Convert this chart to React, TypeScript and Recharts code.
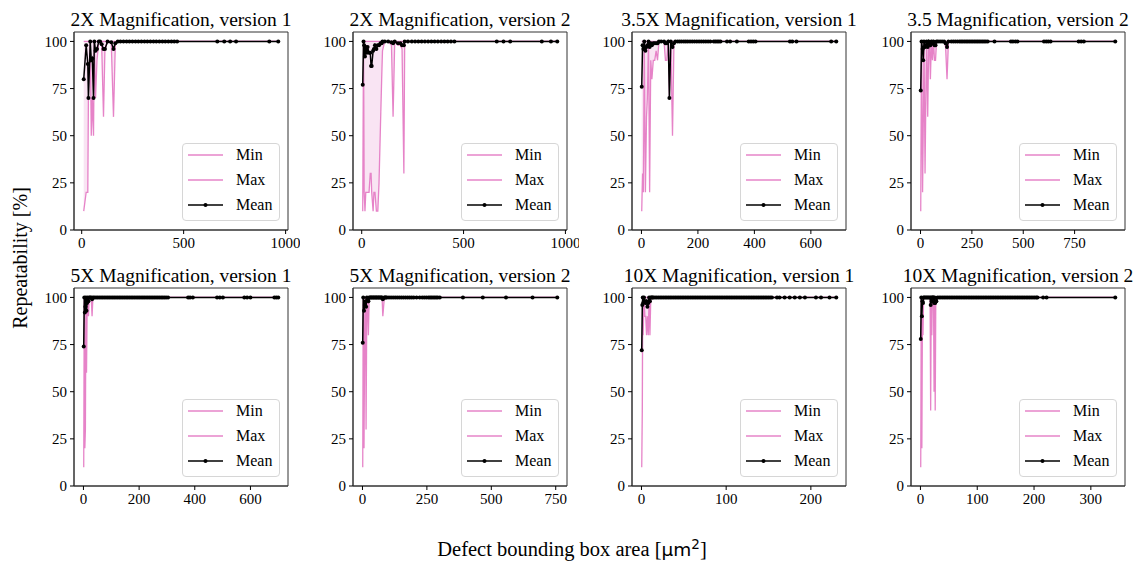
import { ComposedChart, Area, Line, XAxis, YAxis, ReferenceArea, Legend } from 'recharts'

const FONT = '"Liberation Serif", "Times New Roman", serif'
const PINK = '#e377c2'
const FULL = 100 // every repeat found the defect

// 2X, version 1
const AREA_2X_V1 = [10, 22, 30, 33, 42, 47, 52, 58, 62, 68, 75, 84, 90, 98, 107, 114, 127, 145, 156, 165, 177]
const MIN_2X_V1 = [10, 20, 20, 70, 100, 50, 70, 50, 100, 70, 90, 100, 100, 98, 60, 96, 100, 99, 60, 99, 100]
const MAX_2X_V1 = [100, 100, 100, 100, 100, 100, 100, 100, 100, 100, 100, 100, 100, 100, 100, 100, 100, 100, 100, 100, 100]
const MEAN_2X_V1 = [80, 98, 88, 70, 100, 90, 91, 70, 100, 95, 96, 100, 100, 98.5, 96, 96, 100, 99.5, 96, 99, 100]
const FULL_2X_V1 = [190, 205, 220, 234, 249, 264, 278, 293, 308, 322, 337, 352, 366, 381, 396, 410, 425, 440, 454, 468, 665, 699, 728, 757, 920, 964]

// 2X, version 2
const AREA_2X_V2 = [5, 9, 12, 16, 20, 24, 29, 36, 42, 46, 49, 56, 60, 65, 72, 79, 85, 92, 98, 102, 113, 130, 146, 154, 162, 178, 190, 198, 207, 211, 227]
const MIN_2X_V2 = [10, 100, 20, 10, 20, 20, 20, 20, 30, 30, 20, 10, 20, 20, 10, 10, 25, 55, 80, 95, 100, 100, 98, 60, 100, 98, 98, 96, 30, 100, 100]
const MAX_2X_V2 = [100, 100, 100, 100, 100, 100, 100, 100, 100, 100, 100, 100, 100, 100, 100, 100, 100, 100, 100, 100, 100, 100, 100, 100, 100, 100, 100, 100, 100, 100, 100]
const MEAN_2X_V2 = [77, 100, 98, 92, 97, 94, 97, 94, 94, 87, 87, 95, 96, 98, 96, 98, 98, 99, 99, 100, 100, 100, 99.5, 99, 100, 99, 99, 98, 98, 100, 100]
const FULL_2X_V2 = [246, 262, 278, 294, 310, 326, 342, 358, 374, 390, 406, 422, 438, 455, 663, 696, 729, 884, 929, 960]

// 3.5X, version 1
const AREA_35X_V1 = [1, 4, 7, 10, 14, 18, 21, 25, 29, 33, 37, 42, 47, 52, 57, 62, 70, 80, 85, 90, 95, 99, 104, 110, 115, 120]
const MIN_35X_V1 = [10, 30, 20, 100, 20, 60, 70, 100, 20, 90, 80, 90, 90, 95, 90, 100, 100, 100, 90, 90, 100, 70, 100, 50, 98, 100]
const MAX_35X_V1 = [100, 100, 100, 100, 100, 100, 100, 100, 100, 100, 100, 100, 100, 100, 100, 100, 100, 100, 100, 100, 100, 100, 100, 100, 100, 100]
const MEAN_35X_V1 = [76, 98, 96, 100, 95, 97, 98, 100, 97, 99, 98, 99, 99, 99, 99, 100, 100, 100, 99, 99, 100, 70, 100, 97, 99, 100]
const FULL_35X_V1 = [128, 135, 142, 150, 157, 164, 172, 180, 188, 196, 204, 212, 220, 228, 236, 244, 256, 262, 268, 274, 280, 303, 314, 338, 380, 388, 396, 404, 526, 534, 549, 672, 690]

// 3.5X, version 2
const AREA_35X_V2 = [1, 5, 10, 13, 17, 22, 26, 30, 35, 40, 44, 48, 53, 58, 63, 68, 73, 78, 85, 95, 105, 115, 122, 129, 136]
const MIN_35X_V2 = [10, 100, 20, 50, 100, 30, 70, 100, 60, 100, 100, 80, 100, 90, 100, 90, 90, 100, 100, 100, 100, 100, 97, 80, 100]
const MAX_35X_V2 = [100, 100, 100, 100, 100, 100, 100, 100, 100, 100, 100, 100, 100, 100, 100, 100, 100, 100, 100, 100, 100, 100, 100, 100, 100]
const MEAN_35X_V2 = [74, 100, 96, 90, 100, 97, 98, 100, 97, 100, 99, 98, 100, 99, 100, 98, 98, 100, 100, 100, 100, 100, 99, 97, 100]
const FULL_35X_V2 = [150, 160, 170, 180, 190, 198, 206, 214, 222, 230, 238, 246, 254, 262, 270, 278, 286, 294, 302, 310, 318, 327, 360, 440, 450, 462, 472, 601, 612, 622, 633, 770, 782, 795, 948]

// 5X, version 1
const AREA_5X_V1 = [1, 3, 5, 7, 9, 11, 13, 15, 18, 21, 24, 28, 31, 34]
const MIN_5X_V1 = [10, 100, 20, 30, 100, 60, 90, 100, 90, 100, 100, 100, 90, 100]
const MAX_5X_V1 = [100, 100, 100, 100, 100, 100, 100, 100, 100, 100, 100, 100, 100, 100]
const MEAN_5X_V1 = [74, 100, 92, 95, 100, 93, 97, 100, 98, 100, 100, 100, 99, 100]
const FULL_5X_V1 = [39, 45, 51, 57, 63, 69, 75, 81, 87, 93, 99, 105, 111, 117, 123, 129, 135, 141, 147, 153, 159, 165, 171, 177, 183, 189, 195, 201, 207, 213, 219, 225, 231, 237, 243, 249, 255, 261, 267, 273, 279, 285, 291, 297, 304, 376, 383, 393, 480, 490, 501, 578, 588, 600, 686, 693, 700]

// 5X, version 2
const AREA_5X_V2 = [1, 3, 6, 9, 12, 14, 17, 20, 23, 26, 30, 40, 50, 60, 70, 79, 85]
const MIN_5X_V2 = [10, 100, 20, 90, 100, 30, 100, 95, 80, 100, 100, 100, 100, 100, 100, 90, 100]
const MAX_5X_V2 = [100, 100, 100, 100, 100, 100, 100, 100, 100, 100, 100, 100, 100, 100, 100, 100, 100]
const MEAN_5X_V2 = [76, 100, 93, 96, 98, 95, 100, 99, 98, 100, 100, 100, 100, 100, 100, 99, 100]
const FULL_5X_V2 = [33, 36, 43, 46, 53, 56, 63, 66, 73, 76, 88, 91, 95, 103, 111, 119, 127, 135, 143, 151, 159, 167, 175, 183, 191, 199, 210, 222, 232, 240, 248, 256, 262, 268, 274, 280, 286, 292, 300, 390, 467, 557, 660, 756]

// 10X, version 1
const AREA_10X_V1 = [0.3, 1, 1.5, 2, 3, 4, 5, 6, 7, 8, 9, 10, 11, 12, 13]
const MIN_10X_V1 = [10, 40, 100, 80, 100, 90, 90, 80, 90, 80, 100, 80, 100, 100, 100]
const MAX_10X_V1 = [100, 100, 100, 100, 100, 100, 100, 100, 100, 100, 100, 100, 100, 100, 100]
const MEAN_10X_V1 = [72, 96, 100, 97, 100, 98, 97, 98, 95, 97, 100, 98, 100, 100, 100]
const FULL_10X_V1 = [
  14, 16, 18, 20, 22, 24, 26, 28, 30, 32, 34, 36, 38, 40, 42, 44, 46, 48, 50, 52, 54, 56, 58, 60, 62, 64, 66, 68,
  70, 72, 74, 76, 78, 80, 82, 84, 86, 88, 90, 92, 94, 96, 98, 100, 102, 104, 106, 108, 110, 112, 114, 116, 118,
  120, 122, 124, 126, 128, 130, 132, 134, 136, 138, 140, 142, 144, 146, 148, 150, 152, 154, 160, 163, 169, 175,
  181, 187, 193, 206, 212, 222, 230,
]

// 10X, version 2
const AREA_10X_V2 = [0.5, 1.5, 2.5, 3.5, 4.5, 5.5, 7, 9, 11, 13, 15, 17, 18, 19, 20, 21, 22, 23, 24, 25, 26, 27, 28]
const MIN_10X_V2 = [10, 100, 20, 90, 80, 100, 100, 100, 100, 100, 100, 100, 40, 100, 80, 100, 100, 100, 50, 100, 40, 98, 98]
const MAX_10X_V2 = [100, 100, 100, 100, 100, 100, 100, 100, 100, 100, 100, 100, 100, 100, 100, 100, 100, 100, 100, 100, 100, 100, 100]
const MEAN_10X_V2 = [78, 100, 90, 98, 97, 100, 100, 100, 100, 100, 100, 100, 96, 100, 98, 100, 100, 100, 97, 100, 97, 98, 98]
const FULL_10X_V2 = [
  30, 33, 36, 39, 42, 45, 48, 51, 54, 57, 60, 63, 66, 69, 72, 75, 78, 81, 84, 87, 90, 93, 96, 99, 102, 105, 108,
  111, 114, 117, 120, 123, 126, 129, 132, 135, 138, 141, 144, 147, 150, 153, 156, 159, 162, 165, 168, 171, 174,
  177, 180, 183, 186, 189, 192, 195, 198, 201, 204, 206, 216, 222, 343,
]

const Y_TICKS = [0, 25, 50, 75, 100]
const Y_MAX = 105

const SERIES = [
  { key: 'min', name: 'Min', color: PINK, dot: false },
  { key: 'max', name: 'Max', color: PINK, dot: false },
  { key: 'mean', name: 'Mean', color: '#000', dot: true },
]

interface Row {
  area: number
  min: number
  max: number
  mean: number
  band: [number, number]
}

function buildRows(area: number[], min: number[], max: number[], mean: number[], full: number[]): Row[] {
  const rows = area.map((a, i) => ({ area: a, min: min[i], max: max[i], mean: mean[i] }))
  full.forEach((a) => rows.push({ area: a, min: FULL, max: FULL, mean: FULL }))
  rows.sort((p, q) => p.area - q.area)
  return rows.map((r) => ({ ...r, band: [r.min, r.max] as [number, number] }))
}

// plot-area geometry
const PLOT_W = 214
const PLOT_H = 198
const AXIS_W = 64
const TOP_PAD = 8
const RIGHT_PAD = 12
const X_AXIS_H = 30
const LEGEND_W = 98
const LEGEND_H = 78

const PANELS = [
  { title: '2X Magnification, version 1', rows: buildRows(AREA_2X_V1, MIN_2X_V1, MAX_2X_V1, MEAN_2X_V1, FULL_2X_V1), ticks: [0, 500, 1000], left: 74, top: 32 },
  { title: '2X Magnification, version 2', rows: buildRows(AREA_2X_V2, MIN_2X_V2, MAX_2X_V2, MEAN_2X_V2, FULL_2X_V2), ticks: [0, 500, 1000], left: 353, top: 32 },
  { title: '3.5X Magnification, version 1', rows: buildRows(AREA_35X_V1, MIN_35X_V1, MAX_35X_V1, MEAN_35X_V1, FULL_35X_V1), ticks: [0, 200, 400, 600], left: 632, top: 32 },
  { title: '3.5 Magnification, version 2', rows: buildRows(AREA_35X_V2, MIN_35X_V2, MAX_35X_V2, MEAN_35X_V2, FULL_35X_V2), ticks: [0, 250, 500, 750], left: 911, top: 32 },
  { title: '5X Magnification, version 1', rows: buildRows(AREA_5X_V1, MIN_5X_V1, MAX_5X_V1, MEAN_5X_V1, FULL_5X_V1), ticks: [0, 200, 400, 600], left: 74, top: 288 },
  { title: '5X Magnification, version 2', rows: buildRows(AREA_5X_V2, MIN_5X_V2, MAX_5X_V2, MEAN_5X_V2, FULL_5X_V2), ticks: [0, 250, 500, 750], left: 353, top: 288 },
  { title: '10X Magnification, version 1', rows: buildRows(AREA_10X_V1, MIN_10X_V1, MAX_10X_V1, MEAN_10X_V1, FULL_10X_V1), ticks: [0, 100, 200], left: 632, top: 288 },
  { title: '10X Magnification, version 2', rows: buildRows(AREA_10X_V2, MIN_10X_V2, MAX_10X_V2, MEAN_10X_V2, FULL_10X_V2), ticks: [0, 100, 200, 300], left: 911, top: 288 },
]

function LegendBox() {
  return (
    <div
      style={{
        position: 'relative',
        width: LEGEND_W,
        height: LEGEND_H,
        boxSizing: 'border-box',
        border: '1px solid #d6d6d6',
        borderRadius: 4,
        background: 'rgba(255,255,255,0.8)',
        fontFamily: FONT,
      }}
    >
      {SERIES.map((s, i) => (
        <div key={s.key} style={{ position: 'absolute', left: 0, top: 1 + i * 25, height: 20, width: LEGEND_W }}>
          <svg width={40} height={20} style={{ position: 'absolute', left: 4, top: 0 }}>
            <line x1={1} y1={10} x2={36} y2={10} stroke={s.color} strokeWidth={1.5} strokeOpacity={s.dot ? 1 : 0.9} />
            {s.dot && <circle cx={18.5} cy={10} r={2} fill={s.color} />}
          </svg>
          <span style={{ position: 'absolute', left: 53, top: 0, fontSize: 16, lineHeight: '20px' }}>{s.name}</span>
        </div>
      ))}
    </div>
  )
}

interface PanelProps {
  title: string
  rows: Row[]
  ticks: number[]
  left: number
  top: number
}

function Panel({ title, rows, ticks, left, top }: PanelProps) {
  // matplotlib-style 5% margin around the x data
  const xs = rows.map((r) => r.area)
  const lo = Math.min(...xs)
  const hi = Math.max(...xs)
  const pad = (hi - lo) * 0.05
  const domain: [number, number] = [lo - pad, hi + pad]

  return (
    <>
      <div
        style={{
          position: 'absolute',
          left: left - 40,
          width: PLOT_W + 80,
          top: top - 24,
          textAlign: 'center',
          fontSize: 19.5,
          lineHeight: '24px',
          whiteSpace: 'nowrap',
        }}
      >
        {title}
      </div>
      <div style={{ position: 'absolute', left: left - AXIS_W, top: top - TOP_PAD }}>
        <ComposedChart
          width={AXIS_W + PLOT_W + RIGHT_PAD}
          height={TOP_PAD + PLOT_H + X_AXIS_H}
          data={rows}
          margin={{ top: TOP_PAD, right: RIGHT_PAD, bottom: 0, left: 0 }}
        >
          <XAxis
            type="number"
            dataKey="area"
            domain={domain}
            ticks={ticks}
            interval={0}
            allowDataOverflow
            height={X_AXIS_H}
            tickSize={4}
            tickMargin={3}
            tick={{ fontSize: 15, fill: '#000' }}
            tickLine={{ stroke: '#000' }}
            axisLine={{ stroke: '#333' }}
          />
          <YAxis
            type="number"
            domain={[0, Y_MAX]}
            ticks={Y_TICKS}
            interval={0}
            allowDataOverflow
            width={AXIS_W}
            tickSize={4}
            tickMargin={3}
            tick={{ fontSize: 15, fill: '#000' }}
            tickLine={{ stroke: '#000' }}
            axisLine={{ stroke: '#333' }}
          />
          <ReferenceArea x1={domain[0]} x2={domain[1]} y1={0} y2={Y_MAX} fill="none" stroke="#333" strokeWidth={1} />
          <Area
            dataKey="band"
            type="linear"
            stroke="none"
            fill={PINK}
            fillOpacity={0.2}
            legendType="none"
            isAnimationActive={false}
          />
          {SERIES.map((s) => (
            <Line
              key={s.key}
              dataKey={s.key}
              name={s.name}
              type="linear"
              stroke={s.color}
              strokeWidth={s.dot ? 1.5 : 1.3}
              strokeOpacity={s.dot ? 1 : 0.9}
              dot={s.dot ? { r: 2, fill: s.color, stroke: 'none' } : false}
              activeDot={false}
              isAnimationActive={false}
            />
          ))}
          <Legend
            layout="vertical"
            align="center"
            verticalAlign="middle"
            content={() => <LegendBox />}
            wrapperStyle={{
              left: AXIS_W + PLOT_W - 8 - LEGEND_W,
              top: TOP_PAD + PLOT_H - 9 - LEGEND_H,
              width: LEGEND_W,
              height: LEGEND_H,
            }}
          />
        </ComposedChart>
      </div>
    </>
  )
}

export default function App() {
  return (
    <div
      style={{
        position: 'absolute',
        left: 0,
        top: 0,
        width: 1146,
        height: 563,
        background: '#fff',
        color: '#000',
        fontFamily: FONT,
        overflow: 'hidden',
      }}
    >
      {PANELS.map((p) => (
        <Panel key={p.title} {...p} />
      ))}
      <div
        style={{
          position: 'absolute',
          left: 20 - 110,
          top: 258 - 12,
          width: 220,
          height: 24,
          lineHeight: '24px',
          fontSize: 20,
          textAlign: 'center',
          transform: 'rotate(-90deg)',
          whiteSpace: 'nowrap',
        }}
      >
        Repeatability [%]
      </div>
      <div
        style={{
          position: 'absolute',
          left: 372,
          top: 537,
          width: 400,
          lineHeight: '24px',
          fontSize: 20.5,
          textAlign: 'center',
          whiteSpace: 'nowrap',
        }}
      >
        Defect bounding box area [
        <span style={{ fontFamily: '"DejaVu Sans", sans-serif', fontSize: 18.5 }}>
          μm<sup style={{ fontSize: 13.5, lineHeight: 0 }}>2</sup>
        </span>
        ]
      </div>
    </div>
  )
}
